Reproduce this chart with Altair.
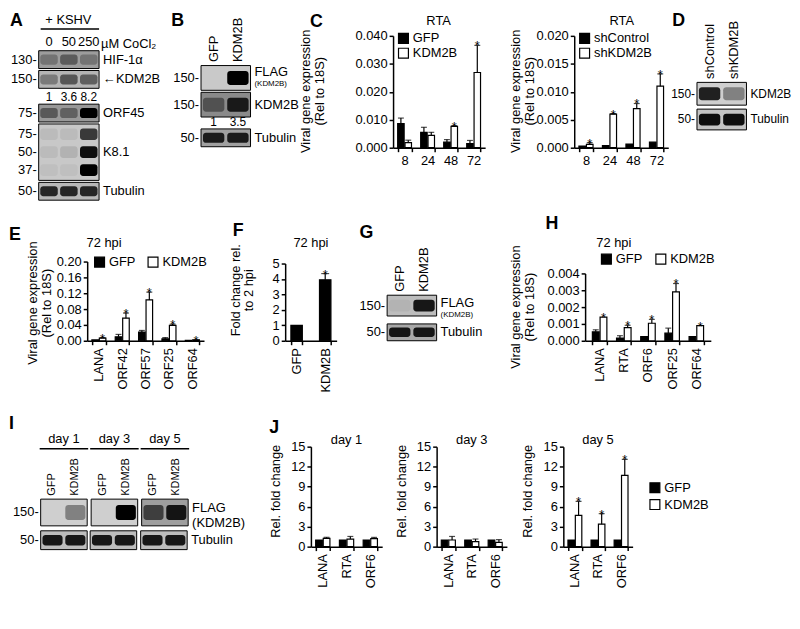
import altair as alt
import pandas as pd

FONT = "Liberation Sans"
ONE = pd.DataFrame({"k": [0]})

# ---------------- data ----------------
# Panel A (western blot, band intensity 0..1)
A_lanes = ["0", "50", "250"]
A_hif = [0.25, 0.4, 0.25]
A_kdm = [0.3, 0.5, 0.45]
A_kdm_quant = ["1", "3.6", "8.2"]
A_orf45 = [0.4, 0.35, 1.0]
A_k81_mw = ["75", "50", "37"]
A_k81 = [[0.06, 0.06, 0.7], [0.06, 0.1, 0.95], [0.04, 0.04, 1.0]]
A_tub = [0.8, 0.8, 0.8]
# Panel B
B_lanes = ["GFP", "KDM2B"]
B_flag = [0.0, 1.0]
B_kdm = [0.4, 0.85]
B_quant = ["1", "3.5"]
B_tub = [0.85, 0.85]
# Panel C
C_hpi = ["8", "24", "48", "72"]
C1_groups = ["GFP", "KDM2B"]
C1_gfp = [0.0086, 0.0055, 0.0020, 0.0015]
C1_gfp_top = [0.0106, 0.0073, 0.0029, 0.0026]
C1_kdm = [0.0018, 0.0044, 0.0076, 0.0269]
C1_kdm_top = [0.0027, 0.0055, 0.0079, 0.0366]
C1_kdm_star = [False, False, True, True]
C2_groups = ["shControl", "shKDM2B"]
C2_ctl = [0.0003, 0.0004, 0.00065, 0.0010]
C2_sh = [0.0006, 0.0060, 0.0070, 0.0110]
C2_sh_top = [0.0009, 0.0061, 0.0079, 0.0132]
C2_sh_star = [True, True, True, True]
# Panel D
D_lanes = ["shControl", "shKDM2B"]
D_kdm = [0.85, 0.35]
D_tub = [0.95, 0.95]
# Panel E
E_genes = ["LANA", "ORF42", "ORF57", "ORF25", "ORF64"]
E_gfp = [0.002, 0.010, 0.022, 0.005, 0.001]
E_gfp_top = [0.002, 0.016, 0.026, 0.008, 0.001]
E_kdm = [0.0067, 0.057, 0.103, 0.039, 0.0025]
E_kdm_top = [0.008, 0.070, 0.123, 0.042, 0.0025]
E_kdm_star = [True, True, True, True, True]
# Panel F
F_groups = ["GFP", "KDM2B"]
F_val = [1.0, 3.95]
F_top = [1.0, 4.35]
F_star = [False, True]
# Panel G
G_lanes = ["GFP", "KDM2B"]
G_flag = [0.05, 0.9]
G_tub = [0.9, 0.9]
# Panel H
H_genes = ["LANA", "RTA", "ORF6", "ORF25", "ORF64"]
H_gfp = [0.00053, 0.00016, 0.00024, 0.00045, 0.00024]
H_gfp_top = [0.00065, 0.0003, 0.00024, 0.00075, 0.00024]
H_kdm = [0.0014, 0.00078, 0.00104, 0.0029, 0.0009]
H_kdm_top = [0.0014, 0.00092, 0.00127, 0.0034, 0.0009]
H_kdm_star = [True, True, True, True, True]
# Panel I
I_days = ["day 1", "day 3", "day 5"]
I_lanes = ["GFP", "KDM2B"]
I_flag = [[0.0, 0.35], [0.0, 1.0], [0.6, 0.9]]
I_tub = [[0.9, 0.9], [0.9, 0.9], [0.9, 0.9]]
# Panel J
J_genes = ["LANA", "RTA", "ORF6"]
J_groups = ["GFP", "KDM2B"]
J_gfp = [[1.0, 1.0, 1.0], [1.0, 1.0, 1.0], [1.0, 1.0, 1.0]]
J_kdm = [[1.24, 1.14, 1.19], [1.0, 0.74, 0.64], [4.7, 3.37, 10.7]]
J_kdm_top = [[1.4, 1.53, 1.39], [1.53, 1.14, 1.04], [6.8, 4.95, 13.1]]
J_kdm_star = [[False] * 3, [False] * 3, [True] * 3]

BW = ["#000000", "#ffffff"]


# ---------------- helpers ----------------
def frame(w, h, L, T, R, B):
    return alt.Chart(ONE).mark_rect(opacity=0).encode(
        x=alt.value(-L), x2=alt.value(w + R), y=alt.value(-T), y2=alt.value(h + B))


def border(w, h):
    return alt.Chart(ONE).mark_rect(fillOpacity=0, stroke="black", strokeWidth=1).encode(
        x=alt.value(0), x2=alt.value(w), y=alt.value(0), y2=alt.value(h))


def anchor():
    return frame(1, 1, 0, 0, 0, 0).properties(width=1, height=1)


def txt(s, x, y, size=13, bold=False, align="center", baseline="middle", angle=0, lh=None):
    kw = dict(text=s, fontSize=size, font=FONT, color="black", align=align, baseline=baseline)
    if bold:
        kw["fontWeight"] = "bold"
    if angle:
        kw["angle"] = angle
    if lh:
        kw["lineHeight"] = lh
    return alt.Chart(ONE).mark_text(**kw).encode(x=alt.value(x), y=alt.value(y))


def hline(x1, x2, y, width=1.5):
    return alt.Chart(ONE).mark_rule(color="black", strokeWidth=width).encode(
        x=alt.value(x1), x2=alt.value(x2), y=alt.value(y))


def letter(s, x, y):
    return txt(s, x, y, size=18, bold=True, align="left")


def legend(x, y, direction="vertical", colpad=10, rowpad=0):
    return alt.Legend(orient="none", legendX=x, legendY=y, direction=direction, title=None,
                      symbolType="square", symbolSize=100, symbolStrokeColor="black",
                      symbolStrokeWidth=1.2, labelFontSize=13, labelFont=FONT, labelColor="black",
                      rowPadding=rowpad, columnPadding=colpad, labelOffset=3, padding=0, offset=0)


def bar_panel(cats, groups, vals, tops, stars, colors, ymax, yvals, yfmt, size, margins,
              rot=False, pin=0.4, pout=0.2, opin=0.12, cap=6, leg=None, extras=()):
    w, h = size
    L, T, R, B = margins
    recs = []
    for gi, g in enumerate(groups):
        for ci, c in enumerate(cats):
            recs.append({"cat": c, "grp": g, "val": vals[gi][ci], "top": tops[gi][ci],
                         "star": bool(stars[gi][ci])})
    df = pd.DataFrame(recs)
    xax = alt.Axis(title=None, labelAngle=-90 if rot else 0, labelFontSize=13, labelFont=FONT,
                   labelColor="black", domainColor="black", domainWidth=1.5, tickColor="black",
                   tickWidth=1.5, tickSize=4, tickBand="extent", labelPadding=3, grid=False)
    X = alt.X("cat:N", sort=cats, scale=alt.Scale(domain=cats, paddingInner=pin, paddingOuter=pout), axis=xax)
    XO = alt.XOffset("grp:N", sort=groups, scale=alt.Scale(domain=groups, paddingInner=opin))
    yax = alt.Axis(title=None, values=yvals, format=yfmt, labelFontSize=13, labelFont=FONT,
                   labelColor="black", domainColor="black", domainWidth=1.5, tickColor="black",
                   tickWidth=1.5, tickSize=4, labelPadding=2, grid=False)
    ys = alt.Scale(domain=[0, ymax], nice=False, zero=True)

    def Y(f):
        return alt.Y(f + ":Q", scale=ys, axis=yax)

    base = alt.Chart(df)
    col = alt.Color("grp:N", sort=groups, scale=alt.Scale(domain=groups, range=colors), legend=leg)
    bars = base.mark_bar(stroke="black", strokeWidth=1.2).encode(x=X, xOffset=XO, y=Y("val"), color=col)
    errb = base.transform_filter("datum.top > datum.val")
    err = errb.mark_rule(color="black", strokeWidth=1.2).encode(x=X, xOffset=XO, y=Y("val"), y2="top:Q")
    caps = errb.mark_tick(color="black", thickness=1.2, size=cap).encode(x=X, xOffset=XO, y=Y("top"))
    st = base.transform_filter("datum.star").mark_text(
        text="*", fontSize=13, font=FONT, baseline="alphabetic", dy=5, color="black").encode(
        x=X, xOffset=XO, y=Y("top"))
    layers = [frame(w, h, L, T, R, B), bars, err, caps, st] + list(extras)
    return alt.layer(*layers).properties(width=w, height=h)


def strip(lanes, rows, vals, size, margins, bg, mws=None, mw_size=13, label=None, label_y=None,
          label_size=13, sub=None, sub_y=None, sub_size=8, top=None, top_size=13, quant=None,
          quant_y=None, extras=()):
    w, h = size
    L, T, R, B = margins
    recs = [{"lane": ln, "row": r, "v": vals[ri][li]}
            for ri, r in enumerate(rows) for li, ln in enumerate(lanes)]
    df = pd.DataFrame(recs)
    if top == "rot":
        xax = alt.Axis(orient="top", labelAngle=-90, domain=False, ticks=False, title=None,
                       labelFontSize=top_size, labelFont=FONT, labelColor="black", labelPadding=4,
                       grid=False)
    elif top == "flat":
        xax = alt.Axis(orient="top", labelAngle=0, domain=False, ticks=False, title=None,
                       labelFontSize=13, labelFont=FONT, labelColor="black", labelPadding=2,
                       grid=False)
    else:
        xax = None
    X = alt.X("lane:N", sort=lanes, scale=alt.Scale(domain=lanes, paddingInner=0.12, paddingOuter=0.08), axis=xax)
    Y = alt.Y("row:N", sort=rows, scale=alt.Scale(domain=rows, paddingInner=0.35, paddingOuter=0.25), axis=None)
    bands = alt.Chart(df).mark_rect(cornerRadius=3).encode(
        x=X, y=Y, color=alt.Color("v:Q", scale=alt.Scale(domain=[0, 1], range=[bg, "#000000"]), legend=None))
    layers = [frame(w, h, L, T, R, B), bands]
    if mws:
        mwdf = pd.DataFrame({"row": rows, "mw": [m + "-" for m in mws]})
        layers.append(alt.Chart(mwdf).mark_text(align="right", baseline="middle", fontSize=mw_size,
                                                font=FONT, color="black").encode(
            x=alt.value(-2), y=Y, text="mw:N"))
    if label:
        layers.append(txt(label, w + 4, h / 2 if label_y is None else label_y, size=label_size, align="left"))
    if sub:
        layers.append(txt(sub, w + 4, sub_y, size=sub_size, align="left"))
    if quant:
        qdf = pd.DataFrame({"lane": lanes, "q": quant})
        layers.append(alt.Chart(qdf).mark_text(baseline="middle", fontSize=12, font=FONT,
                                               color="black").encode(
            x=X, y=alt.value(quant_y), text="q:N"))
    layers += list(extras)
    layers.append(border(w, h))
    return alt.layer(*layers).properties(width=w, height=h, view=alt.ViewBackground(fill=bg))


def vc(*charts):
    return alt.vconcat(*charts, spacing=0).resolve_scale(color="independent", xOffset="independent")


def hc(*charts):
    return alt.hconcat(*charts, spacing=0).resolve_scale(color="independent", xOffset="independent")


def panel(*charts):
    # 1-px anchor on top so that every panel's frame starts at the row top
    return vc(anchor(), *charts)


YT = ["Viral gene expression", "(Rel to 18S)"]

# ---------------- row 1 (height 200) ----------------
A = panel(
    strip(A_lanes, ["130"], [A_hif], (61, 18), (30, 39, 71, 1), "#9c9c9c", mws=["130"],
          label="HIF-1α", top="flat",
          extras=[letter("A", -29, -30), txt("+ KSHV", 30, -31), hline(2, 61, -22),
                  txt("µM CoCl₂", 63, -7, align="left")]),
    strip(A_lanes, ["150"], [A_kdm], (61, 18), (30, 1, 71, 15), "#b4b4b4", mws=["150"],
          label="←KDM2B", quant=A_kdm_quant, quant_y=27),
    strip(A_lanes, ["75"], [A_orf45], (61, 18), (30, 1, 71, 1), "#999999", mws=["75"],
          label="ORF45"),
    strip(A_lanes, A_k81_mw, A_k81, (61, 57), (30, 1, 71, 1), "#c8c8c8", mws=A_k81_mw,
          label="K8.1"),
    strip(A_lanes, ["50"], [A_tub], (61, 18), (30, 1, 71, 9), "#b8b8b8", mws=["50"],
          label="Tubulin"),
)

B = panel(
    strip(B_lanes, ["150"], [B_flag], (50, 25), (32, 54, 47, 1), "#c9c9c9", mws=["150"],
          label="FLAG", label_y=7, sub="(KDM2B)", sub_y=19, top="rot",
          extras=[letter("B", -30, -45)]),
    strip(B_lanes, ["150"], [B_kdm], (50, 25), (32, 1, 47, 11), "#8a8a8a", mws=["150"],
          label="KDM2B", quant=B_quant, quant_y=30),
    strip(B_lanes, ["50"], [B_tub], (50, 18), (32, 1, 47, 63), "#a0a0a0", mws=["50"],
          label="Tubulin"),
)

C1 = panel(bar_panel(C_hpi, C1_groups, [C1_gfp, C1_kdm], [C1_gfp_top, C1_kdm_top],
                     [[False] * 4, C1_kdm_star], BW, 0.04, [0, 0.01, 0.02, 0.03, 0.04], ".3f",
                     (93, 113), (95, 24, 20, 62), leg=legend(4, -4),
                     extras=[letter("C", -84, -14), txt("RTA", 46, -15),
                             txt(YT, -88, 56, angle=270, lh=14)]))

C2 = panel(bar_panel(C_hpi, C2_groups, [C2_ctl, C2_sh], [C2_ctl, C2_sh_top],
                     [[False] * 4, C2_sh_star], BW, 0.02, [0, 0.005, 0.01, 0.015, 0.02], ".3f",
                     (95, 113), (70, 24, 2, 62), leg=legend(4, -4),
                     extras=[txt("RTA", 48, -15), txt(YT, -59, 56, angle=270, lh=14)]))

D = panel(
    strip(D_lanes, ["150"], [D_kdm], (50, 23), (27, 71, 44, 2), "#cfcfcf", mws=["150"], mw_size=12,
          label="KDM2B", label_size=12, top="rot", extras=[letter("D", -25, -62)]),
    strip(D_lanes, ["50"], [D_tub], (50, 21), (27, 2, 44, 80), "#c4c4c4", mws=["50"], mw_size=12,
          label="Tubulin", label_size=12),
)

row1 = hc(anchor(), A, B, C1, C2, D)

# ---------------- row 2 (height 195) ----------------
E = panel(bar_panel(E_genes, C1_groups, [E_gfp, E_kdm], [E_gfp_top, E_kdm_top],
                    [[False] * 5, E_kdm_star], BW, 0.2, [0, 0.04, 0.08, 0.12, 0.16, 0.2], ".2f",
                    (118, 80), (79, 52, 24, 62), rot=True, leg=legend(6, -6, "horizontal", 10),
                    extras=[letter("E", -79, -27), txt("72 hpi", 17, -19),
                            txt(YT, -55, 42, angle=270, lh=14)]))

F = panel(bar_panel(F_groups, ["v"], [F_val], [F_top], [F_star], ["#000000"], 5, [0, 1, 2, 3, 4, 5], "d",
                    (52, 78), (58, 54, 18, 62), rot=True, pin=0.6, pout=0.2, opin=0, cap=8,
                    extras=[letter("F", -53, -33), txt("72 hpi", 26, -21),
                            txt(["Fold change rel.", "to 2 hpi"], -50, 27, angle=270, lh=14)]))

G = panel(
    strip(G_lanes, ["150"], [G_flag], (50, 21), (33, 86, 72, 4), "#bdbdbd", mws=["150"],
          label="FLAG", label_y=8, sub="(KDM2B)", sub_y=20, top="rot",
          extras=[letter("G", -28, -63)]),
    strip(G_lanes, ["50"], [G_tub], (50, 17), (33, 4, 72, 62), "#a8a8a8", mws=["50"],
          label="Tubulin"),
)

H = panel(bar_panel(H_genes, C1_groups, [H_gfp, H_kdm], [H_gfp_top, H_kdm_top],
                    [[False] * 5, H_kdm_star], BW, 0.004, [0, 0.001, 0.002, 0.003, 0.004], ".3f",
                    (127, 68), (78, 64, 74, 62), rot=True, pout=0.3, leg=legend(15, -21, "horizontal", 11),
                    extras=[letter("H", -40, -50), txt("72 hpi", 29, -31),
                            txt(YT, -70, 34, angle=270, lh=14)]))

row2 = hc(anchor(), E, F, G, H)

# ---------------- row 3 (height 218) ----------------
I_bg = ["#cfcfcf", "#cfcfcf", "#9e9e9e"]
I_marg_x = [(32, 2), (1, 2), (2, 69)]
flags, tubs = [], []
for di, day in enumerate(I_days):
    Lx, Rx = I_marg_x[di]
    ex = [txt(day, 23.5, -61), hline(-1, 48, -51)]
    if di == 0:
        ex.append(letter("I", -32, -76))
    flags.append(strip(I_lanes, ["150"], [I_flag[di]], (47, 27), (Lx, 97, Rx, 1), I_bg[di],
                       mws=["150"] if di == 0 else None,
                       label="FLAG" if di == 2 else None, label_y=9,
                       sub="(KDM2B)" if di == 2 else None, sub_y=24, sub_size=13,
                       top="rot", top_size=11, extras=ex))
    tubs.append(strip(I_lanes, ["50"], [I_tub[di]], (47, 19), (Lx, 1, Rx, 72), "#bdbdbd",
                      mws=["50"] if di == 0 else None, label="Tubulin" if di == 2 else None))
I = panel(hc(*flags), hc(*tubs))

J_marg = [(55, 11), (44, 12), (45, 154)]
J_w = [72, 71, 70]
J_panels = []
for di, day in enumerate(I_days):
    Lx, Rx = J_marg[di]
    ex = [txt(day, J_w[di] / 2, -7), txt("Rel. fold change", -35 if di < 2 else -36, 45, angle=270)]
    if di == 0:
        ex.append(letter("J", -42, -19))
    J_panels.append(panel(bar_panel(J_genes, J_groups, [J_gfp[di], J_kdm[di]], [J_gfp[di], J_kdm_top[di]],
                                    [[False] * 3, J_kdm_star[di]], BW, 15, [0, 3, 6, 9, 12, 15], "d",
                                    (J_w[di], 101), (Lx, 44, Rx, 72), rot=True, pout=0.2,
                                    leg=legend(86, 35, rowpad=2) if di == 2 else None, extras=ex)))

row3 = hc(anchor(), I, *J_panels)

chart = vc(row1, row2, row3).properties(padding=0).configure_view(stroke=None).configure_axis(
    labelFont=FONT, titleFont=FONT).configure_legend(labelFont=FONT)

chart.save("out.html", embed_options={"renderer": "svg", "actions": False})
